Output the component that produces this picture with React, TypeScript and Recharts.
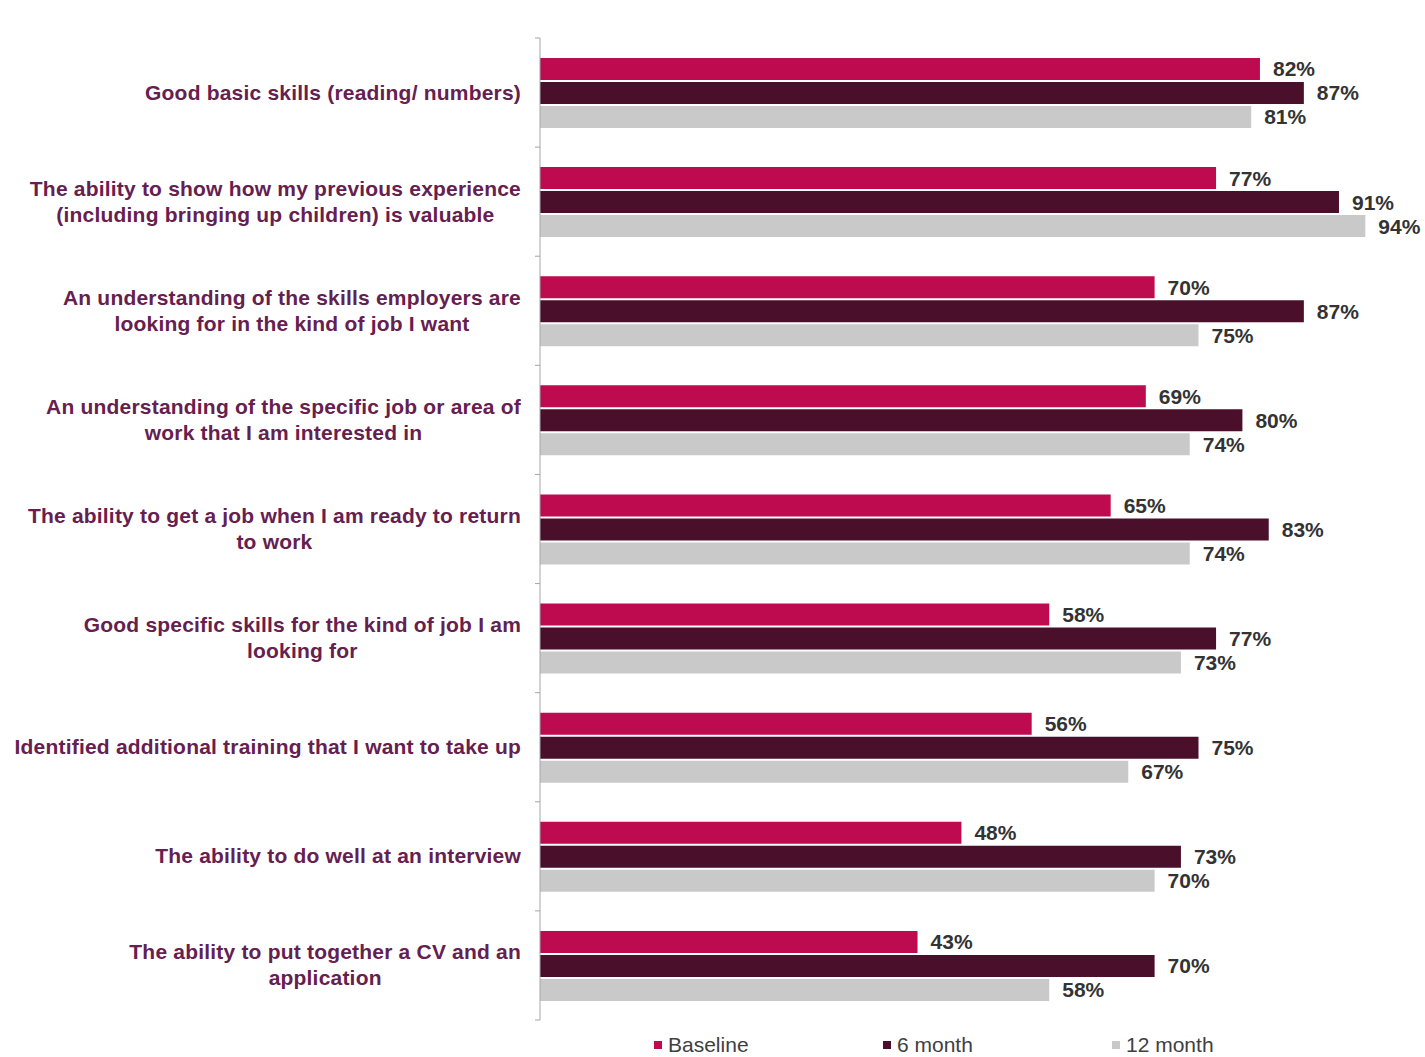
import { BarChart, Bar, XAxis, YAxis, LabelList } from "recharts";

const categories = [
  "Good basic skills (reading/ numbers)",
  "The ability to show how my previous experience\n(including bringing up children) is valuable",
  "An understanding of the skills employers are\nlooking for in the kind of job I want",
  "An understanding of the specific job or area of\nwork that I am interested in",
  "The ability to get a job when I am ready to return\nto work",
  "Good specific skills for the kind of job I am\nlooking for",
  "Identified additional training that I want to take up",
  "The ability to do well at an interview",
  "The ability to put together a CV and an\napplication",
];

const baseline = [82, 77, 70, 69, 65, 58, 56, 48, 43];
const sixMonth = [87, 91, 87, 80, 83, 77, 75, 73, 70];
const twelveMonth = [81, 94, 75, 74, 74, 73, 67, 70, 58];

const seriesNames = ["Baseline", "6 month", "12 month"];
const seriesKeys = ["baseline", "sixMonth", "twelveMonth"];
const seriesColors = ["#be0a4e", "#4a0f2a", "#c9c9c9"];

const data = categories.map((name, i) => ({
  name,
  baseline: baseline[i],
  sixMonth: sixMonth[i],
  twelveMonth: twelveMonth[i],
}));

const FONT = '"Liberation Sans", Arial, sans-serif';
const W = 1425;
const H = 1057;
const MARGIN = { top: 38, right: 7, bottom: 37, left: 0 };
const AXIS_W = 540;
const LABEL_RIGHT = 521;
const BAND = (H - MARGIN.top - MARGIN.bottom) / categories.length;

function CategoryTick(props: any) {
  const { x, y, payload, index } = props;
  const last = index === categories.length - 1;
  return (
    <g>
      {/* small ticks on the axis line at the category boundaries */}
      <line x1={AXIS_W - 5} x2={AXIS_W} y1={y - BAND / 2} y2={y - BAND / 2} stroke="#a6a6a6" />
      {last && <line x1={AXIS_W - 5} x2={AXIS_W} y1={y + BAND / 2} y2={y + BAND / 2} stroke="#a6a6a6" />}
      <foreignObject x={x - LABEL_RIGHT} y={y - 45} width={LABEL_RIGHT} height={90}>
        <div
          style={{
            display: "flex",
            justifyContent: "flex-end",
            alignItems: "center",
            height: "100%",
          }}
        >
          <div
            style={{
              textAlign: "center",
              whiteSpace: "pre-line",
              fontFamily: FONT,
              fontWeight: 700,
              fontSize: 21,
              letterSpacing: 0.2,
              lineHeight: "26px",
              color: "#652050",
            }}
          >
            {payload.value}
          </div>
        </div>
      </foreignObject>
    </g>
  );
}

export default function App() {
  return (
    <div style={{ position: "absolute", left: 0, top: 0, width: W, height: H, background: "#fff" }}>
      <BarChart
        width={W}
        height={H}
        data={data}
        layout="vertical"
        margin={MARGIN}
        barSize={22}
        barGap={2}
      >
        <XAxis type="number" domain={[0, 100]} hide />
        <YAxis
          type="category"
          dataKey="name"
          width={AXIS_W}
          axisLine={{ stroke: "#a6a6a6" }}
          tickLine={false}
          tickSize={0}
          tickMargin={AXIS_W - LABEL_RIGHT}
          interval={0}
          tick={<CategoryTick />}
        />
        {seriesKeys.map((key, i) => (
          <Bar key={key} dataKey={key} name={seriesNames[i]} fill={seriesColors[i]} isAnimationActive={false}>
            <LabelList
              dataKey={key}
              position="right"
              offset={13}
              formatter={(v: any) => `${v}%`}
              style={{ fontFamily: FONT, fontWeight: 700, fontSize: 21, fill: "#333333" }}
            />
          </Bar>
        ))}
      </BarChart>
      <div
        style={{
          position: "absolute",
          left: 654,
          top: 1033,
          display: "flex",
          fontFamily: FONT,
          fontSize: 21,
          color: "#404040",
        }}
      >
        {seriesNames.map((n, i) => (
          <div key={n} style={{ width: 229, display: "flex", alignItems: "center", height: 24 }}>
            <span style={{ width: 8, height: 8, background: seriesColors[i], marginRight: 6, display: "inline-block" }} />
            <span>{n}</span>
          </div>
        ))}
      </div>
    </div>
  );
}
